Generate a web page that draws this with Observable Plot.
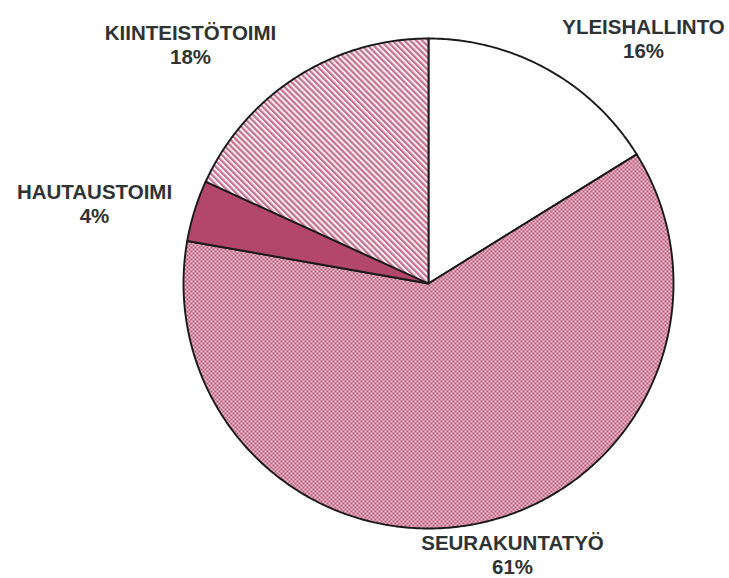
<!DOCTYPE html>
<html>
<head>
<meta charset="utf-8">
<script src="https://cdn.jsdelivr.net/npm/d3@7"></script>
<script src="https://cdn.jsdelivr.net/npm/@observablehq/plot@0.6"></script>
<style>
  html, body { margin: 0; padding: 0; background: #fff; }
</style>
</head>
<body>
<div id="chart"></div>
<script>
// ---- data ----
const categories = ["YLEISHALLINTO", "SEURAKUNTATYÖ", "HAUTAUSTOIMI", "KIINTEISTÖTOIMI"];
const values = [16, 61, 4, 18];
const percentLabels = ["16%", "61%", "4%", "18%"];

// ---- layout / style ----
const W = 729, H = 578;
const cx = 428, cy = 283, R = 245;
const fills = ["#ffffff", "url(#checker)", "#b3466b", "url(#stripes)"];
// label anchor (cap-top, centre) per category
const labelAnchor = [[643, 17], [512, 533], [94, 182], [190, 23]];

const pie = d3.pie().sort(null).value(d => d.value);
const arcs = pie(categories.map((c, i) => ({category: c, value: values[i]})));

function slicePoints(a) {
  const pts = [{x: cx, y: cy}];
  const n = Math.max(4, Math.ceil((a.endAngle - a.startAngle) / 0.01));
  for (let k = 0; k <= n; k++) {
    const t = a.startAngle + (a.endAngle - a.startAngle) * k / n;
    pts.push({x: cx + R * Math.sin(t), y: cy - R * Math.cos(t)});
  }
  pts.push({x: cx, y: cy});
  return pts;
}

const sliceMarks = arcs.map((a, i) =>
  Plot.line(slicePoints(a), {
    x: "x", y: "y",
    fill: fills[i],
    stroke: "#1a1a1a",
    strokeWidth: 1.9,
    strokeLinejoin: "round"
  })
);

const labelData = categories.map((c, i) => ({
  text: c + "\n" + percentLabels[i],
  x: labelAnchor[i][0], y: labelAnchor[i][1]
}));

const chart = Plot.plot({
  width: W, height: H,
  margin: 0,
  x: {domain: [0, W], range: [0, W], axis: null},
  y: {domain: [0, H], range: [0, H], axis: null},
  style: {background: "#fff"},
  marks: [
    ...sliceMarks,
    Plot.text(labelData, {
      x: "x", y: "y", text: "text",
      textAnchor: "middle", lineAnchor: "top",
      lineHeight: 1.15,
      fontSize: 20.5, fontWeight: "bold",
      fontFamily: "Liberation Sans, Arial, sans-serif",
      fill: "#2e3333"
    })
  ]
});

// patterns
const ns = "http://www.w3.org/2000/svg";
const defs = document.createElementNS(ns, "defs");
defs.innerHTML = `
  <pattern id="checker" width="4" height="4" patternUnits="userSpaceOnUse">
    <rect width="4" height="4" fill="#f2c8d5"/>
    <rect width="2" height="2" fill="#b85476"/>
    <rect x="2" y="2" width="2" height="2" fill="#b85476"/>
  </pattern>
  <pattern id="stripes" width="4.2" height="4.2" patternUnits="userSpaceOnUse" patternTransform="rotate(-45)">
    <rect width="4.2" height="4.2" fill="#fbeef2"/>
    <rect width="2.2" height="4.2" fill="#c3728f"/>
  </pattern>`;
chart.insertBefore(defs, chart.firstChild);

document.getElementById("chart").appendChild(chart);
</script>
</body>
</html>
